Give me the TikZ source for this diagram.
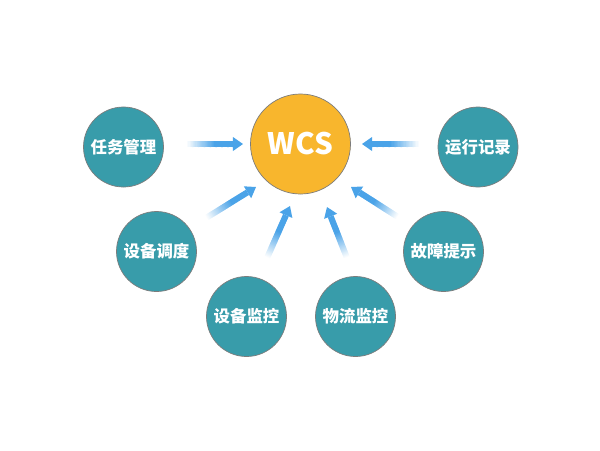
\documentclass[tikz,border=0pt]{standalone}
\usepackage{fontspec}
\usetikzlibrary{calc}
\newfontfamily\cjk{Noto Sans CJK SC}
\definecolor{tealc}{HTML}{389CAA}
\definecolor{orangec}{HTML}{F8B62D}
\definecolor{arrowblue}{HTML}{4AA3E8}
\definecolor{rimgray}{HTML}{7C7C7C}
\tikzset{
  sat/.style={circle, fill=tealc, draw=rimgray, line width=0.5pt, minimum size=2cm, inner sep=0pt,
    text=white, font=\cjk\bfseries\fontsize{11.7}{14}\selectfont},
  hub/.style={circle, fill=orangec, draw=rimgray, line width=0.5pt, minimum size=2.5cm, inner sep=0pt,
    text=white, font=\cjk\bfseries\fontsize{21}{25}\selectfont},
}
\newcommand{\garrow}[2]{%
  \coordinate (hb) at ($(#2)!0.25cm!(#1)$);
  \foreach \i in {0,...,39}{%
    \pgfmathtruncatemacro\p{min(100,\i*100/24)}%
    \pgfmathsetmacro\a{\i/40}%
    \pgfmathsetmacro\b{min(1,(\i+1.4)/40)}%
    \draw[line width=0.15cm, draw=arrowblue!\p!white] ($(#1)!\a!(hb)$) -- ($(#1)!\b!(hb)$);
  }
  \fill[arrowblue] (#2) -- ($(hb)!0.175cm!90:(#2)$) -- ($(hb)!0.175cm!-90:(#2)$) -- cycle;
}
\begin{document}
\begin{tikzpicture}[x=0.025cm, y=-0.025cm]
\useasboundingbox (0,0) rectangle (600,450);
\node[hub] (wcs) at (300.5,144) {WCS};
\node[sat] (rw) at (123.5,147) {任务管理};
\node[sat] (yx) at (478,147) {运行记录};
\node[sat] (dd) at (156.5,251.5) {设备调度};
\node[sat] (gz) at (443.5,251.5) {故障提示};
\node[sat] (jk) at (246.5,316.5) {设备监控};
\node[sat] (wl) at (355.5,316.5) {物流监控};
\coordinate (s1) at (186,144); \coordinate (t1) at (243,144);
\coordinate (s2) at (420,144); \coordinate (t2) at (362,144);
\coordinate (s3) at (206,218); \coordinate (t3) at (256,187);
\coordinate (s4) at (267,258); \coordinate (t4) at (290,206);
\coordinate (s5) at (398,217); \coordinate (t5) at (351,187);
\coordinate (s6) at (347,258); \coordinate (t6) at (327,207);
\garrow{s1}{t1}
\garrow{s2}{t2}
\garrow{s3}{t3}
\garrow{s4}{t4}
\garrow{s5}{t5}
\garrow{s6}{t6}
\end{tikzpicture}
\end{document}
